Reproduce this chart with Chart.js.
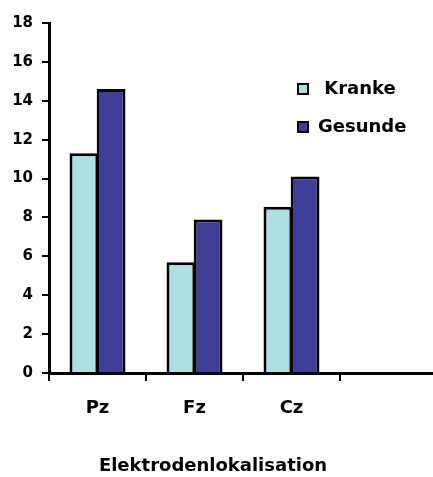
<!DOCTYPE html>
<html>
<head>
<meta charset="utf-8">
<script src="https://cdn.jsdelivr.net/npm/chart.js@4/dist/chart.umd.min.js"></script>
<style>
  html, body { margin: 0; padding: 0; background: #fff; overflow: hidden; }
  #wrap { width: 440px; height: 477px; }
</style>
</head>
<body>
<div id="wrap"><canvas id="chart" width="440" height="477"></canvas></div>
<script>
// electrode sites (last slot left empty)
var categories = ['Pz', 'Fz', 'Cz', ''];
var kranke = [11.3, 5.7, 8.55, null];
var gesunde = [14.6, 7.9, 10.1, null];
var yTicks = [0, 2, 4, 6, 8, 10, 12, 14, 16, 18];
var xTitle = 'Elektrodenlokalisation';

var FONT = '"DejaVu Sans", "Liberation Sans", Arial, sans-serif';

// legend box in the upper right of the plot
var sideLegend = {
    id: 'sideLegend',
    afterDraw: function(chart) {
        var ctx = chart.ctx;
        var area = chart.chartArea;
        var rowY = [area.top + 66, area.top + 104];
        ctx.save();
        ctx.font = 'bold 18px ' + FONT;
        ctx.textBaseline = 'middle';
        ctx.textAlign = 'left';
        chart.data.datasets.forEach(function(ds, i) {
            var y = rowY[i];
            var bx = area.left + 248;
            ctx.fillStyle = ds.backgroundColor;
            ctx.fillRect(bx, y - 6, 12, 12);
            ctx.lineWidth = 2;
            ctx.strokeStyle = '#000';
            ctx.strokeRect(bx + 1, y - 5, 10, 10);
            ctx.fillStyle = '#000';
            ctx.fillText(ds.label, area.left + 269, y);
        });
        // axis title under the category labels
        ctx.textAlign = 'center';
        ctx.fillText(xTitle, 213, chart.height - 11);
        ctx.restore();
    }
};

var ctx = document.getElementById('chart').getContext('2d');
var chart = new Chart(ctx, {
    type: 'bar',
    data: {
        labels: categories,
        datasets: [{
            label: ' Kranke',
            data: kranke,
            backgroundColor: '#AEDFE2',
            borderColor: '#000',
            borderWidth: 3,
            inflateAmount: 0
        }, {
            label: 'Gesunde',
            data: gesunde,
            backgroundColor: '#3E3E98',
            borderColor: '#000',
            borderWidth: 3,
            inflateAmount: 0
        }]
    },
    options: {
        responsive: false,
        animation: false,
        layout: { padding: { top: 23, right: 3, left: 0, bottom: 0 } },
        datasets: {
            // bars slightly wider than their slot so the pair shares one edge
            bar: { barPercentage: 1.06, categoryPercentage: 0.56 }
        },
        plugins: {
            legend: { display: false },
            tooltip: { enabled: false }
        },
        scales: {
            x: {
                offset: true,
                grid: {
                    offset: true,
                    drawOnChartArea: false,
                    color: '#000',
                    lineWidth: 2,
                    tickLength: 8
                },
                border: { color: '#000', width: 3 },
                ticks: {
                    color: '#000',
                    padding: 17,
                    font: { family: FONT, size: 18, weight: 'bold' }
                },
                afterFit: function(scale) { scale.height = 104; }
            },
            y: {
                min: 0,
                max: 18,
                afterBuildTicks: function(scale) {
                    scale.ticks = yTicks.map(function(v) { return { value: v }; });
                },
                grid: {
                    drawOnChartArea: false,
                    color: '#000',
                    lineWidth: 2,
                    tickLength: 7
                },
                border: { color: '#000', width: 3 },
                ticks: {
                    color: '#000',
                    padding: 9,
                    font: { family: FONT, size: 15, weight: 'bold' }
                },
                afterFit: function(scale) { scale.width = 49; }
            }
        }
    },
    plugins: [sideLegend]
});
</script>
</body>
</html>
